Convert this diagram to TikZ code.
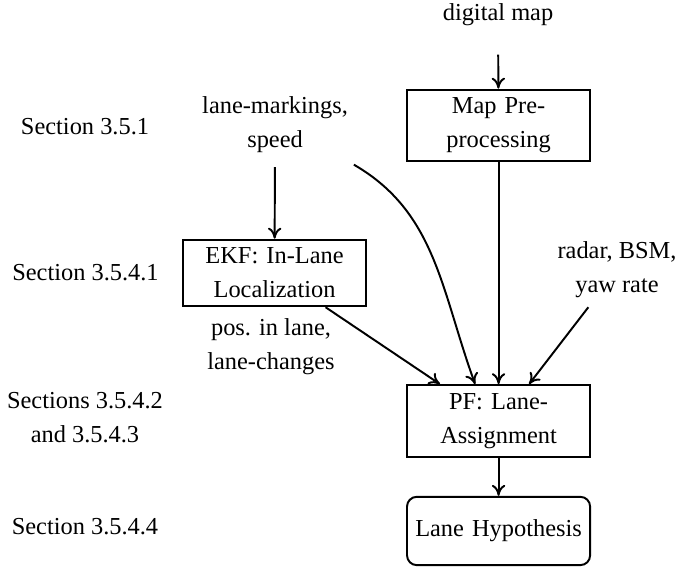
\documentclass[tikz,border=0pt]{standalone}
\usepackage{fontspec}
\setmainfont{Liberation Serif}
\usetikzlibrary{arrows.meta}

\begin{document}
\begin{tikzpicture}[b/.style={draw,align=center,text width=68.4pt,font=\fontsize{10}{14}\selectfont},l/.style={align=center,font=\fontsize{10}{14}\selectfont},>={To[length=4.5pt,width=5.5pt]},thick]
\useasboundingbox (0,0) rectangle (9.784,8.170);
\node[l] (s1) at (1.225,6.340) {Section 3.5.1};
\node[l] (s2) at (1.232,4.237) {Section 3.5.4.1};
\node[l] (s3) at (1.225,2.147) {Sections 3.5.4.2\\and 3.5.4.3};
\node[l] (s4) at (1.225,0.576) {Section 3.5.4.4};
\node[l] (dm) at (7.176,7.954) {digital map};
\node[b] (m) at (7.184,6.362) {Map Pre-\\processing};
\node[l] (lm) at (3.963,6.369) {lane-markings,\\speed};
\node[b] (k) at (3.956,4.237) {EKF: In-Lane\\Localization};
\node[l] (pl) at (3.905,3.170) {pos. in lane,\\lane-changes};
\node[l] (rd) at (8.891,4.280) {radar, BSM,\\yaw rate};
\node[b] (p) at (7.184,2.104) {PF: Lane-\\Assignment};
\node[b,rounded corners=4pt,minimum height=28pt] (h) at (7.184,0.519) {Lane Hypothesis};
\draw[->,shorten <=8pt] (dm)--(m);
\draw[->,shorten <=2pt] (lm)--(k);
\draw[->,shorten <=2pt] ([xshift=-3pt]lm.south east) to[out=-30,in=110] ([xshift=-9.6pt]p.north);
\draw[->] (k)--([xshift=-24pt]p.north);
\draw[->] (m)--(p);
\draw[->] (rd)--([xshift=12.5pt]p.north);
\draw[->] (p)--(h);
\end{tikzpicture}
\end{document}
